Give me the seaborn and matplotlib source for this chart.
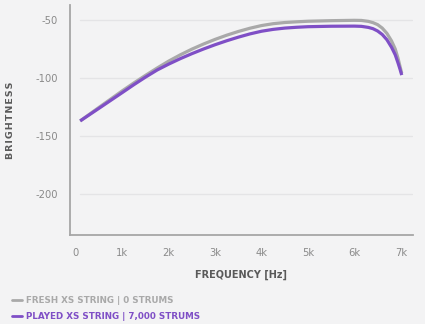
import matplotlib
matplotlib.use("Agg")
import matplotlib.pyplot as plt
import seaborn as sns
import pandas as pd
from matplotlib.lines import Line2D

# ---- data ----
fresh_label = "FRESH XS STRING | 0 STRUMS"
played_label = "PLAYED XS STRING | 7,000 STRUMS"

freq_fresh = [90, 500, 1000, 1250, 1500, 1750, 2000, 2250, 2500, 2750, 3000, 3250, 3500, 3750,
              4000, 4250, 4500, 4750, 5000, 5500, 6000, 6150, 6300, 6400, 6500, 6600,
              6700, 6800, 6880, 6940, 6980, 7020]
bright_fresh = [-137, -125.2, -111, -104.2, -97.7, -91.4, -85.4, -80, -75.1, -70.7, -66.7, -63.1,
                -59.9, -57.1, -54.8, -53.2, -52.2, -51.6, -51.1, -50.6, -50.3, -50.4, -51.2,
                -52.3, -54, -57, -61.5, -68, -75, -83, -89.5, -96]

freq_played = [90, 500, 1000, 1250, 1500, 1750, 2000, 2250, 2500, 2750, 3000, 3250, 3500, 3750,
               4000, 4250, 4500, 4750, 5000, 5500, 6000, 6150, 6300, 6400, 6500, 6600,
               6700, 6800, 6880, 6940, 6980, 7020]
bright_played = [-137, -126, -112.5, -105.7, -99.2, -93.1, -88, -83.3, -79, -75, -71.3, -67.9,
                 -64.8, -62, -59.7, -58.1, -57, -56.3, -55.8, -55.4, -55.3, -55.5, -56.4,
                 -57.5, -59.5, -62.5, -67, -73.5, -80, -87, -92, -97.5]

x_ticks = [0, 1000, 2000, 3000, 4000, 5000, 6000, 7000]
x_tick_labels = ["0", "1k", "2k", "3k", "4k", "5k", "6k", "7k"]
y_ticks = [-50, -100, -150, -200]

# ---- style ----
sns.set_style("white")
plt.rcParams["font.family"] = ["DejaVu Sans"]

gray = "#a9a9a9"
purple = "#7f4fc6"
bg = "#f3f3f4"

df = pd.concat([
    pd.DataFrame({"freq": freq_fresh, "bright": bright_fresh, "series": fresh_label}),
    pd.DataFrame({"freq": freq_played, "bright": bright_played, "series": played_label}),
])

fig = plt.figure(figsize=(4.25, 3.24), dpi=100, facecolor=bg)
ax = fig.add_axes([70/425, 1 - 235/324, (413-70)/425, (235-5)/324])
ax.set_facecolor(bg)

sns.lineplot(data=df, x="freq", y="bright", hue="series",
             hue_order=[fresh_label, played_label],
             palette={fresh_label: gray, played_label: purple},
             linewidth=2.3, legend=False, ax=ax, sort=True,
             solid_capstyle="butt", solid_joinstyle="round")

for y in y_ticks:
    ax.axhline(y, xmin=0.029, xmax=0.997, color="#e4e4e6", linewidth=1.0, zorder=0)

ax.set_xlim(-129, 7263)
ax.set_ylim(-235.3, -37.1)
ax.set_xticks(x_ticks)
ax.set_xticklabels(x_tick_labels)
ax.set_yticks(y_ticks)
ax.set_yticklabels([str(v) for v in y_ticks])
ax.tick_params(axis="both", length=0, labelsize=7.2, labelcolor="#8a8a8a")
ax.tick_params(axis="y", pad=8.5)
ax.tick_params(axis="x", pad=9)

for s in ["top", "right"]:
    ax.spines[s].set_visible(False)
for s in ["left", "bottom"]:
    ax.spines[s].set_color("#a6a6a6")
    ax.spines[s].set_linewidth(1.3)

ax.set_xlabel("FREQUENCY [Hz]", fontsize=7, fontweight="bold", color="#5a5a5a", labelpad=9)
ax.set_ylabel("\u200a".join("BRIGHTNESS"), fontsize=6.8, fontweight="bold",
              color="#5a5a5a", labelpad=15)

handles = [Line2D([], [], color=gray, linewidth=2), Line2D([], [], color=purple, linewidth=2)]
leg = fig.legend(handles, [fresh_label, played_label], loc="upper left",
                 bbox_to_anchor=(12/425, 1 - 296/324), frameon=False,
                 fontsize=6.3, handlelength=1.1, handletextpad=0.55,
                 labelspacing=0.83, borderaxespad=0, borderpad=0)
for txt, col in zip(leg.get_texts(), [gray, purple]):
    txt.set_color(col)
    txt.set_fontweight("bold")

fig.savefig("out.png", dpi=100, facecolor=bg)
